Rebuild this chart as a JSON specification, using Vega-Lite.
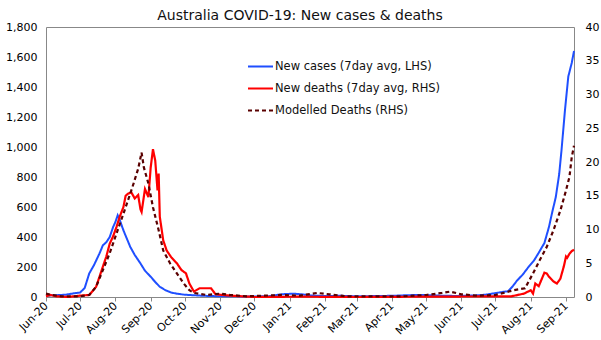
{
  "$schema": "https://vega.github.io/schema/vega-lite/v6.json",
  "width": 528,
  "height": 270,
  "autosize": "none",
  "padding": {"left": 46, "top": 27, "right": 27, "bottom": 43},
  "config": {
    "font": "DejaVu Sans",
    "view": {"stroke": "#888888", "strokeWidth": 1},
    "axis": {"labelFont": "DejaVu Sans", "labelFontSize": 11, "labelColor": "#000000", "grid": false, "domain": false, "title": null}
  },
  "title": {"text": "Australia COVID-19: New cases & deaths", "fontSize": 14, "fontWeight": "normal", "color": "#111111", "font": "DejaVu Sans", "anchor": "middle", "dx": -10, "offset": -2},
  "data": {"values": [
    {"d":"2020-06-01","s":"C","v":10},{"d":"2020-06-10","s":"C","v":12},{"d":"2020-06-18","s":"C","v":15},{"d":"2020-06-26","s":"C","v":25},{"d":"2020-07-01","s":"C","v":30},{"d":"2020-07-05","s":"C","v":60},{"d":"2020-07-09","s":"C","v":157},{"d":"2020-07-13","s":"C","v":210},{"d":"2020-07-18","s":"C","v":290},{"d":"2020-07-21","s":"C","v":345},{"d":"2020-07-24","s":"C","v":365},{"d":"2020-07-27","s":"C","v":400},{"d":"2020-07-30","s":"C","v":467},{"d":"2020-08-01","s":"C","v":500},{"d":"2020-08-03","s":"C","v":545},{"d":"2020-08-05","s":"C","v":510},{"d":"2020-08-08","s":"C","v":445},{"d":"2020-08-11","s":"C","v":390},{"d":"2020-08-14","s":"C","v":335},{"d":"2020-08-18","s":"C","v":280},{"d":"2020-08-23","s":"C","v":224},{"d":"2020-08-27","s":"C","v":175},{"d":"2020-09-01","s":"C","v":135},{"d":"2020-09-05","s":"C","v":100},{"d":"2020-09-09","s":"C","v":68},{"d":"2020-09-14","s":"C","v":45},{"d":"2020-09-19","s":"C","v":30},{"d":"2020-09-24","s":"C","v":22},{"d":"2020-10-01","s":"C","v":15},{"d":"2020-10-08","s":"C","v":12},{"d":"2020-10-15","s":"C","v":9},{"d":"2020-10-25","s":"C","v":6},{"d":"2020-11-05","s":"C","v":5},{"d":"2020-11-20","s":"C","v":4},{"d":"2020-12-05","s":"C","v":4},{"d":"2020-12-15","s":"C","v":6},{"d":"2020-12-22","s":"C","v":15},{"d":"2020-12-28","s":"C","v":20},{"d":"2021-01-05","s":"C","v":22},{"d":"2021-01-12","s":"C","v":18},{"d":"2021-01-20","s":"C","v":10},{"d":"2021-02-01","s":"C","v":6},{"d":"2021-02-15","s":"C","v":8},{"d":"2021-03-01","s":"C","v":5},{"d":"2021-03-15","s":"C","v":6},{"d":"2021-04-01","s":"C","v":8},{"d":"2021-04-15","s":"C","v":12},{"d":"2021-04-25","s":"C","v":14},{"d":"2021-05-05","s":"C","v":12},{"d":"2021-05-15","s":"C","v":8},{"d":"2021-06-01","s":"C","v":7},{"d":"2021-06-12","s":"C","v":10},{"d":"2021-06-22","s":"C","v":15},{"d":"2021-07-01","s":"C","v":26},{"d":"2021-07-08","s":"C","v":35},{"d":"2021-07-12","s":"C","v":38},{"d":"2021-07-16","s":"C","v":70},{"d":"2021-07-20","s":"C","v":110},{"d":"2021-07-25","s":"C","v":150},{"d":"2021-07-30","s":"C","v":200},{"d":"2021-08-04","s":"C","v":245},{"d":"2021-08-08","s":"C","v":295},{"d":"2021-08-13","s":"C","v":360},{"d":"2021-08-17","s":"C","v":467},{"d":"2021-08-20","s":"C","v":570},{"d":"2021-08-23","s":"C","v":666},{"d":"2021-08-26","s":"C","v":820},{"d":"2021-08-28","s":"C","v":976},{"d":"2021-08-31","s":"C","v":1240},{"d":"2021-09-03","s":"C","v":1470},{"d":"2021-09-06","s":"C","v":1560},{"d":"2021-09-08","s":"C","v":1640},
    {"d":"2020-06-01","s":"D","v":0.1},{"d":"2020-06-05","s":"D","v":0.3},{"d":"2020-06-10","s":"D","v":0.1},{"d":"2020-06-20","s":"D","v":0.0},{"d":"2020-07-01","s":"D","v":0.2},{"d":"2020-07-09","s":"D","v":0.3},{"d":"2020-07-15","s":"D","v":1.5},{"d":"2020-07-18","s":"D","v":3.0},{"d":"2020-07-21","s":"D","v":4.5},{"d":"2020-07-24","s":"D","v":6.0},{"d":"2020-07-27","s":"D","v":7.9},{"d":"2020-07-30","s":"D","v":9.0},{"d":"2020-08-02","s":"D","v":10.4},{"d":"2020-08-05","s":"D","v":12.0},{"d":"2020-08-08","s":"D","v":13.3},{"d":"2020-08-10","s":"D","v":15.0},{"d":"2020-08-12","s":"D","v":15.3},{"d":"2020-08-15","s":"D","v":15.5},{"d":"2020-08-18","s":"D","v":14.6},{"d":"2020-08-21","s":"D","v":15.1},{"d":"2020-08-23","s":"D","v":13.0},{"d":"2020-08-24","s":"D","v":12.6},{"d":"2020-08-27","s":"D","v":16.0},{"d":"2020-08-30","s":"D","v":14.8},{"d":"2020-09-01","s":"D","v":19.2},{"d":"2020-09-03","s":"D","v":21.9},{"d":"2020-09-05","s":"D","v":20.2},{"d":"2020-09-07","s":"D","v":15.8},{"d":"2020-09-08","s":"D","v":18.3},{"d":"2020-09-09","s":"D","v":11.9},{"d":"2020-09-12","s":"D","v":8.4},{"d":"2020-09-15","s":"D","v":6.9},{"d":"2020-09-19","s":"D","v":5.9},{"d":"2020-09-24","s":"D","v":5.0},{"d":"2020-09-28","s":"D","v":4.0},{"d":"2020-10-02","s":"D","v":3.5},{"d":"2020-10-05","s":"D","v":2.0},{"d":"2020-10-09","s":"D","v":0.8},{"d":"2020-10-14","s":"D","v":1.3},{"d":"2020-10-24","s":"D","v":1.3},{"d":"2020-10-28","s":"D","v":0.4},{"d":"2020-11-10","s":"D","v":0.2},{"d":"2020-12-01","s":"D","v":0.0},{"d":"2021-01-10","s":"D","v":0.05},{"d":"2021-03-01","s":"D","v":0.0},{"d":"2021-05-01","s":"D","v":0.05},{"d":"2021-07-15","s":"D","v":0.1},{"d":"2021-07-26","s":"D","v":0.5},{"d":"2021-08-01","s":"D","v":1.0},{"d":"2021-08-03","s":"D","v":0.5},{"d":"2021-08-05","s":"D","v":2.0},{"d":"2021-08-08","s":"D","v":1.6},{"d":"2021-08-11","s":"D","v":2.8},{"d":"2021-08-13","s":"D","v":3.6},{"d":"2021-08-15","s":"D","v":3.5},{"d":"2021-08-17","s":"D","v":3.0},{"d":"2021-08-21","s":"D","v":2.3},{"d":"2021-08-24","s":"D","v":2.0},{"d":"2021-08-27","s":"D","v":2.7},{"d":"2021-08-30","s":"D","v":4.5},{"d":"2021-09-01","s":"D","v":6.0},{"d":"2021-09-02","s":"D","v":5.8},{"d":"2021-09-04","s":"D","v":6.4},{"d":"2021-09-06","s":"D","v":6.8},{"d":"2021-09-08","s":"D","v":7.0},
    {"d":"2020-06-01","s":"M","v":0.5},{"d":"2020-06-06","s":"M","v":0.3},{"d":"2020-06-15","s":"M","v":0.1},{"d":"2020-07-01","s":"M","v":0.1},{"d":"2020-07-09","s":"M","v":0.3},{"d":"2020-07-15","s":"M","v":1.5},{"d":"2020-07-21","s":"M","v":4.0},{"d":"2020-07-27","s":"M","v":6.5},{"d":"2020-08-03","s":"M","v":9.9},{"d":"2020-08-10","s":"M","v":13.3},{"d":"2020-08-16","s":"M","v":16.3},{"d":"2020-08-21","s":"M","v":19.0},{"d":"2020-08-24","s":"M","v":21.4},{"d":"2020-08-26","s":"M","v":19.2},{"d":"2020-08-30","s":"M","v":16.8},{"d":"2020-09-03","s":"M","v":13.3},{"d":"2020-09-08","s":"M","v":9.9},{"d":"2020-09-12","s":"M","v":6.9},{"d":"2020-09-18","s":"M","v":5.0},{"d":"2020-09-24","s":"M","v":3.5},{"d":"2020-09-30","s":"M","v":2.0},{"d":"2020-10-05","s":"M","v":1.0},{"d":"2020-10-09","s":"M","v":0.6},{"d":"2020-10-20","s":"M","v":0.3},{"d":"2020-11-01","s":"M","v":0.5},{"d":"2020-11-10","s":"M","v":0.3},{"d":"2020-11-25","s":"M","v":0.1},{"d":"2020-12-10","s":"M","v":0.2},{"d":"2020-12-25","s":"M","v":0.3},{"d":"2021-01-10","s":"M","v":0.2},{"d":"2021-01-25","s":"M","v":0.6},{"d":"2021-02-05","s":"M","v":0.4},{"d":"2021-02-20","s":"M","v":0.1},{"d":"2021-03-15","s":"M","v":0.1},{"d":"2021-04-10","s":"M","v":0.1},{"d":"2021-05-01","s":"M","v":0.3},{"d":"2021-05-15","s":"M","v":0.6},{"d":"2021-05-22","s":"M","v":0.8},{"d":"2021-06-01","s":"M","v":0.4},{"d":"2021-06-15","s":"M","v":0.2},{"d":"2021-07-01","s":"M","v":0.3},{"d":"2021-07-17","s":"M","v":1.0},{"d":"2021-07-27","s":"M","v":1.3},{"d":"2021-08-03","s":"M","v":3.5},{"d":"2021-08-09","s":"M","v":5.5},{"d":"2021-08-15","s":"M","v":7.4},{"d":"2021-08-21","s":"M","v":9.9},{"d":"2021-08-27","s":"M","v":12.8},{"d":"2021-09-01","s":"M","v":15.8},{"d":"2021-09-04","s":"M","v":17.8},{"d":"2021-09-06","s":"M","v":20.7},{"d":"2021-09-08","s":"M","v":22.4}
  ]},
  "transform": [
    {"lookup": "s", "from": {"data": {"values": [
      {"s":"C","series":"New cases (7day avg, LHS)"},
      {"s":"D","series":"New deaths (7day avg, RHS)"},
      {"s":"M","series":"Modelled Deaths (RHS)"}
    ]}, "key": "s", "fields": ["series"]}}
  ],
  "encoding": {
    "x": {"field": "d", "type": "temporal",
      "scale": {"type": "utc", "domain": [{"year": 2020, "month": 6, "date": 1, "utc": true}, {"year": 2021, "month": 9, "date": 8, "utc": true}]},
      "axis": {"labelExpr": "utcFormat(datum.value, '%b-%y')", "tickCount": {"interval": "month", "step": 1}, "labelAngle": -45, "labelAlign": "right", "labelBaseline": "middle", "labelPadding": 3, "ticks": true, "tickSize": 4, "tickColor": "#888888", "labelOverlap": false, "labelFontSize": 11}
    },
    "color": {"field": "series", "type": "nominal",
      "scale": {"domain": ["New cases (7day avg, LHS)", "New deaths (7day avg, RHS)", "Modelled Deaths (RHS)"], "range": ["#1F4FFF", "#FF0000", "#5A0000"]},
      "legend": {"title": null, "orient": "none", "legendX": 201, "legendY": 26, "symbolType": "stroke", "symbolSize": 625, "symbolStrokeWidth": 2, "labelFont": "DejaVu Sans", "labelFontSize": 11.5, "labelColor": "#111111", "labelOffset": 1, "labelLimit": 400, "rowPadding": 3}
    },
    "strokeDash": {"field": "series", "type": "nominal",
      "scale": {"domain": ["New cases (7day avg, LHS)", "New deaths (7day avg, RHS)", "Modelled Deaths (RHS)"], "range": [[1, 0], [1, 0], [4, 3]]},
      "legend": {"title": null}
    }
  },
  "layer": [
    {
      "transform": [{"filter": "datum.s == 'C'"}],
      "mark": {"type": "line", "strokeWidth": 2},
      "encoding": {
        "y": {"field": "v", "type": "quantitative", "scale": {"domain": [0, 1800]},
          "axis": {"orient": "left", "values": [0, 200, 400, 600, 800, 1000, 1200, 1400, 1600, 1800], "format": ",d", "ticks": false, "labelPadding": 9}}
      }
    },
    {
      "transform": [{"filter": "datum.s != 'C'"}],
      "mark": {"type": "line", "strokeWidth": 2.2},
      "encoding": {
        "y": {"field": "v", "type": "quantitative", "scale": {"domain": [0, 40]},
          "axis": {"orient": "right", "values": [0, 5, 10, 15, 20, 25, 30, 35, 40], "ticks": false, "labelPadding": 11}}
      }
    }
  ],
  "resolve": {"scale": {"y": "independent"}}
}
